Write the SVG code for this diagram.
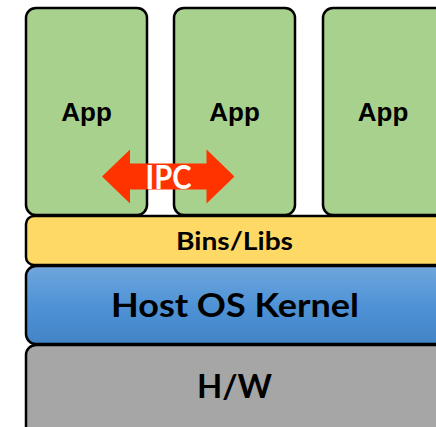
<svg xmlns="http://www.w3.org/2000/svg" width="436" height="427" viewBox="0 0 436 427">
  <defs>
    <linearGradient id="kernelFill" x1="0" y1="0" x2="0" y2="1">
      <stop offset="0" stop-color="#70a6dd"/>
      <stop offset="0.5" stop-color="#4f93d6"/>
      <stop offset="1" stop-color="#4284c6"/>
    </linearGradient>
  </defs>
  <style>
    .box { stroke: #000; stroke-width: 2.5; }
    .app { fill: #a9d18e; }
    .libs { fill: #ffd966; }
    .kernel { fill: url(#kernelFill); }
    .hw { fill: #a6a6a6; }
    .lbl { font-family: Lato, "Open Sans", "Liberation Sans", sans-serif; font-weight: bold; fill: #000; text-anchor: middle; }
    .applbl { font-family: "Liberation Sans", Arial, sans-serif; font-weight: bold; font-size: 26px; fill: #000; text-anchor: middle; }
    .ipc { fill: #ff3300; }
    .ipclbl { font-family: Lato, "Open Sans", "Liberation Sans", sans-serif; font-weight: bold; font-size: 32px; fill: #fff; text-anchor: middle; }
  </style>

  <!-- hardware layer -->
  <g id="hw">
    <rect class="box hw" x="26" y="345" width="430" height="100" rx="10"/>
    <text class="lbl" x="234.5" y="398" font-size="32" textLength="75" lengthAdjust="spacingAndGlyphs">H/W</text>
  </g>

  <!-- kernel layer -->
  <g id="kernel">
    <rect class="box kernel" x="26" y="266" width="430" height="78" rx="10"/>
    <text class="lbl" x="235" y="317" font-size="33" textLength="248" lengthAdjust="spacingAndGlyphs">Host OS Kernel</text>
  </g>

  <!-- shared binaries and libraries -->
  <g id="libs">
    <rect class="box libs" x="26" y="216" width="430" height="49" rx="8"/>
    <text class="lbl" x="234.5" y="250" font-size="25" textLength="117" lengthAdjust="spacingAndGlyphs">Bins/Libs</text>
  </g>

  <!-- applications -->
  <g id="app1">
    <rect class="box app" x="26" y="8" width="121" height="207" rx="10"/>
    <text class="applbl" x="86.5" y="121">App</text>
  </g>
  <g id="app2">
    <rect class="box app" x="174" y="8" width="121" height="207" rx="10"/>
    <text class="applbl" x="234.5" y="121">App</text>
  </g>
  <g id="app3">
    <rect class="box app" x="323" y="8" width="140" height="207" rx="10"/>
    <text class="applbl" x="383" y="121">App</text>
  </g>

  <!-- inter-process communication arrow -->
  <g id="connectors">
    <g id="ipc">
      <polygon class="ipc" points="102,176.5 130,149.5 130,163.5 206.5,163.5 206.5,149.5 234.5,176.5 206.5,203.5 206.5,189.5 130,189.5 130,203.5"/>
      <text class="ipclbl" x="168.5" y="189" textLength="46" lengthAdjust="spacingAndGlyphs">IPC</text>
    </g>
  </g>
</svg>
